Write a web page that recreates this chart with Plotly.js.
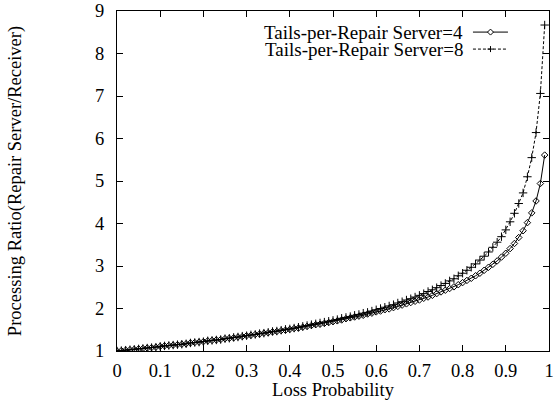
<!DOCTYPE html>
<html>
<head>
<meta charset="utf-8">
<script src="https://cdn.plot.ly/plotly-3.0.1.min.js"></script>
<style>html,body{margin:0;padding:0;background:#fff;}#chart{width:557px;height:400px;}</style>
</head>
<body>
<div id="chart"></div>
<script>
var lossProbability = [0.00,0.01,0.02,0.03,0.04,0.05,0.06,0.07,0.08,0.09,
  0.10,0.11,0.12,0.13,0.14,0.15,0.16,0.17,0.18,0.19,
  0.20,0.21,0.22,0.23,0.24,0.25,0.26,0.27,0.28,0.29,
  0.30,0.31,0.32,0.33,0.34,0.35,0.36,0.37,0.38,0.39,
  0.40,0.41,0.42,0.43,0.44,0.45,0.46,0.47,0.48,0.49,
  0.50,0.51,0.52,0.53,0.54,0.55,0.56,0.57,0.58,0.59,
  0.60,0.61,0.62,0.63,0.64,0.65,0.66,0.67,0.68,0.69,
  0.70,0.71,0.72,0.73,0.74,0.75,0.76,0.77,0.78,0.79,
  0.80,0.81,0.82,0.83,0.84,0.85,0.86,0.87,0.88,0.89,
  0.90,0.91,0.92,0.93,0.94,0.95,0.96,0.97,0.98,0.99];

var ratioTails4 = [1.00,1.01,1.02,1.03,1.04,1.05,1.06,1.07,1.08,1.09,
  1.11,1.12,1.13,1.14,1.15,1.16,1.17,1.19,1.20,1.21,
  1.22,1.24,1.25,1.26,1.27,1.29,1.30,1.31,1.33,1.34,
  1.36,1.37,1.39,1.40,1.42,1.43,1.45,1.46,1.48,1.49,
  1.51,1.53,1.54,1.56,1.58,1.60,1.62,1.63,1.65,1.67,
  1.69,1.71,1.73,1.76,1.78,1.80,1.82,1.84,1.87,1.89,
  1.92,1.94,1.97,1.99,2.02,2.05,2.08,2.11,2.14,2.17,
  2.20,2.24,2.27,2.31,2.35,2.39,2.43,2.47,2.51,2.56,
  2.61,2.66,2.71,2.77,2.83,2.90,2.97,3.04,3.12,3.21,
  3.30,3.41,3.53,3.67,3.83,4.02,4.25,4.53,4.94,5.61];

var ratioTails8 = [1.00,1.01,1.02,1.03,1.04,1.05,1.06,1.07,1.08,1.09,
  1.11,1.12,1.13,1.14,1.15,1.16,1.17,1.19,1.20,1.21,
  1.22,1.24,1.25,1.26,1.27,1.29,1.30,1.32,1.33,1.35,
  1.36,1.38,1.39,1.41,1.42,1.44,1.46,1.47,1.49,1.51,
  1.52,1.54,1.56,1.58,1.60,1.62,1.64,1.66,1.68,1.70,
  1.72,1.74,1.77,1.79,1.81,1.84,1.86,1.89,1.91,1.94,
  1.97,2.00,2.03,2.06,2.09,2.13,2.16,2.20,2.23,2.27,
  2.31,2.35,2.40,2.44,2.49,2.54,2.59,2.65,2.70,2.77,
  2.83,2.90,2.97,3.05,3.14,3.23,3.33,3.44,3.56,3.69,
  3.85,4.04,4.24,4.47,4.72,5.10,5.55,6.14,7.06,8.67];

var seriesNames = ['Tails-per-Repair Server=4', 'Tails-per-Repair Server=8'];
var xTickValues = [0,0.1,0.2,0.3,0.4,0.5,0.6,0.7,0.8,0.9,1];
var xTickLabels = ['0','0.1','0.2','0.3','0.4','0.5','0.6','0.7','0.8','0.9','1'];
var yTickValues = [1,2,3,4,5,6,7,8,9];
var yTickLabels = ['1','2','3','4','5','6','7','8','9'];

var FONT = 'Liberation Serif';

var traces = [
  {
    x: lossProbability, y: ratioTails4, name: seriesNames[0],
    type: 'scatter', mode: 'lines+markers', showlegend: false,
    line: {color: '#000', width: 1},
    marker: {symbol: 'diamond-open', size: 5, color: '#000', line: {width: 1, color: '#000'}}
  },
  {
    x: lossProbability, y: ratioTails8, name: seriesNames[1],
    type: 'scatter', mode: 'lines+markers', showlegend: false,
    line: {color: '#000', width: 1, dash: '3px,2px'},
    marker: {symbol: 'cross-thin-open', size: 6, color: '#000', line: {width: 1, color: '#000'}}
  }
];

// legend keys (gnuplot style: text, then sample to the right)
var keyY = [0.938, 0.888];
var keyX0 = 0.824, keyX1 = 0.905, keyXc = 0.8646;
var dw = 3 / 432, dh = 3 / 340, pw = 3 / 432, ph = 3 / 340;
var shapes = [
  {type: 'line', xref: 'paper', yref: 'paper', x0: keyX0, x1: keyX1, y0: keyY[0], y1: keyY[0], line: {color: '#000', width: 1}},
  {type: 'path', xref: 'paper', yref: 'paper',
   path: 'M' + keyXc + ',' + (keyY[0] + dh) + ' L' + (keyXc + dw) + ',' + keyY[0] + ' L' + keyXc + ',' + (keyY[0] - dh) + ' L' + (keyXc - dw) + ',' + keyY[0] + ' Z',
   fillcolor: '#fff', line: {color: '#000', width: 1}},
  {type: 'line', xref: 'paper', yref: 'paper', x0: keyX0, x1: keyX1, y0: keyY[1], y1: keyY[1], line: {color: '#000', width: 1, dash: '3px,2px'}},
  {type: 'line', xref: 'paper', yref: 'paper', x0: keyXc - pw, x1: keyXc + pw, y0: keyY[1], y1: keyY[1], line: {color: '#000', width: 1}},
  {type: 'line', xref: 'paper', yref: 'paper', x0: keyXc, x1: keyXc, y0: keyY[1] - ph, y1: keyY[1] + ph, line: {color: '#000', width: 1}}
];
var annotations = seriesNames.map(function (n, i) {
  return {text: n, xref: 'paper', yref: 'paper', x: 0.803, y: keyY[i], xanchor: 'right', yanchor: 'middle',
          showarrow: false, borderpad: 0, font: {family: FONT, size: 19, color: '#000'}};
});

var layout = {
  width: 557, height: 400,
  margin: {l: 117, r: 8, t: 11, b: 49, pad: 0},
  paper_bgcolor: '#fff', plot_bgcolor: '#fff',
  font: {family: FONT, size: 18.5, color: '#000'},
  showlegend: false,
  xaxis: {
    range: [0, 1], tickvals: xTickValues, ticktext: xTickLabels,
    ticks: 'inside', ticklen: 6, tickwidth: 1, tickcolor: '#000',
    showline: true, linecolor: '#000', linewidth: 1, mirror: 'ticks',
    showgrid: false, zeroline: false, ticklabelstandoff: 3,
    tickfont: {family: FONT, size: 18.5, color: '#000'},
    title: {text: 'Loss Probability', font: {family: FONT, size: 18.5, color: '#000'}, standoff: 2}
  },
  yaxis: {
    range: [1, 9], tickvals: yTickValues, ticktext: yTickLabels,
    ticks: 'inside', ticklen: 6, tickwidth: 1, tickcolor: '#000',
    showline: true, linecolor: '#000', linewidth: 1, mirror: 'ticks',
    showgrid: false, zeroline: false, ticklabelstandoff: 8,
    tickfont: {family: FONT, size: 18.5, color: '#000'},
    title: {text: 'Processing Ratio(Repair Server/Receiver)', font: {family: FONT, size: 18.5, color: '#000'}, standoff: 68}
  },
  shapes: shapes,
  annotations: annotations
};

Plotly.newPlot('chart', traces, layout, {staticPlot: true, displayModeBar: false});
</script>
</body>
</html>
